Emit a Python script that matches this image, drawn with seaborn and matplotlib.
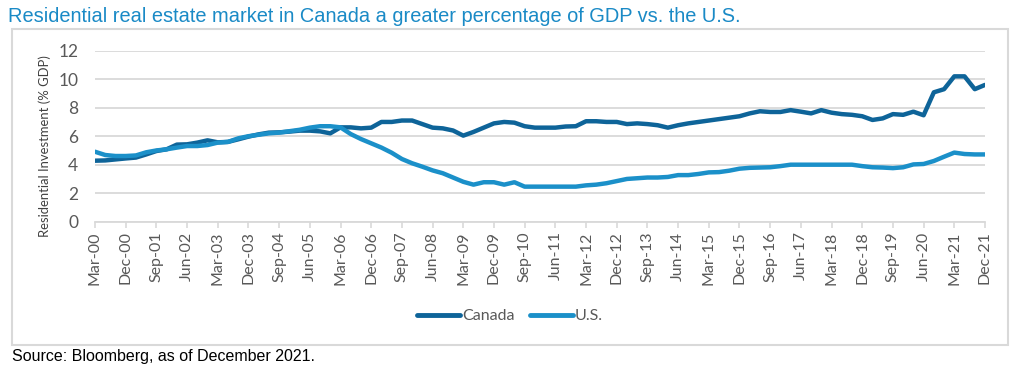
"""
Residential investment as % of GDP, Canada vs U.S. (quarterly, Mar-00 to Dec-21)
"""

import pandas as pd
import matplotlib
matplotlib.use("Agg")
import matplotlib.pyplot as plt
import matplotlib.patches as mpatches
from matplotlib.lines import Line2D
import seaborn as sns

# quarterly values (% of GDP)
canada = [
    4.28, 4.30, 4.37, 4.44, 4.50, 4.72, 4.96, 5.08, 5.41, 5.43,
    5.55, 5.71, 5.57, 5.60, 5.78, 5.97, 6.13, 6.25, 6.27, 6.32,
    6.39, 6.39, 6.34, 6.20, 6.62, 6.62, 6.55, 6.60, 7.00, 7.00,
    7.10, 7.10, 6.85, 6.60, 6.55, 6.40, 6.04, 6.30, 6.60, 6.90,
    7.00, 6.95, 6.70, 6.60, 6.60, 6.60, 6.68, 6.70, 7.05, 7.05,
    7.00, 7.00, 6.85, 6.90, 6.85, 6.77, 6.60, 6.77, 6.90, 7.00,
    7.10, 7.20, 7.30, 7.40, 7.60, 7.75, 7.70, 7.70, 7.83, 7.72,
    7.60, 7.83, 7.65, 7.55, 7.50, 7.40, 7.14, 7.25, 7.55, 7.50,
    7.72, 7.47, 9.08, 9.30, 10.20, 10.20, 9.30, 9.60,
]
us = [
    4.91, 4.68, 4.61, 4.61, 4.65, 4.87, 5.00, 5.08, 5.20, 5.31,
    5.31, 5.38, 5.55, 5.60, 5.85, 6.00, 6.10, 6.20, 6.25, 6.35,
    6.45, 6.60, 6.70, 6.70, 6.62, 6.15, 5.80, 5.50, 5.20, 4.84,
    4.40, 4.10, 3.86, 3.60, 3.40, 3.10, 2.80, 2.60, 2.77, 2.77,
    2.60, 2.77, 2.46, 2.46, 2.46, 2.46, 2.46, 2.46, 2.55, 2.60,
    2.70, 2.85, 3.00, 3.05, 3.10, 3.10, 3.14, 3.27, 3.27, 3.35,
    3.46, 3.48, 3.58, 3.72, 3.78, 3.80, 3.82, 3.90, 4.00, 4.00,
    4.00, 4.00, 4.00, 4.00, 4.00, 3.90, 3.82, 3.80, 3.76, 3.82,
    4.02, 4.05, 4.26, 4.56, 4.85, 4.75, 4.72, 4.72,
]
quarters = pd.date_range("2000-03-01", periods=len(canada), freq="3MS")
quarter_labels = [d.strftime("%b-%y") for d in quarters]
series_names = ["Canada", "U.S."]
colors = {"Canada": "#0e6499", "U.S.": "#1b90c9"}

df = pd.DataFrame({
    "idx": list(range(len(canada))) * 2,
    "value": canada + us,
    "series": ["Canada"] * len(canada) + ["U.S."] * len(us),
})

sns.set_style("white")
plt.rcParams["font.family"] = ["Lato", "DejaVu Sans"]

fig = plt.figure(figsize=(10.23, 3.78), dpi=100)
ax = fig.add_axes([95 / 1023, 1 - 221.7 / 378, 890 / 1023, 171 / 378])

sns.lineplot(data=df, x="idx", y="value", hue="series", hue_order=series_names,
             palette=colors, linewidth=3.2, legend=False, ax=ax)

ax.set_xlim(0, len(canada) - 1)
ax.set_ylim(0, 12)
ax.set_yticks(range(0, 13, 2))
ax.set_xticks(range(0, len(canada), 3))
ax.set_xticklabels(quarter_labels[::3], rotation=90)
ax.yaxis.grid(True, color="#d9d9d9", linewidth=1.3)
ax.set_axisbelow(True)
for s in ["top", "right", "left"]:
    ax.spines[s].set_visible(False)
ax.spines["bottom"].set_color("#d9d9d9")
ax.spines["bottom"].set_linewidth(1.3)
ax.tick_params(axis="y", length=0, pad=12, labelsize=12.5, labelcolor="#595959")
ax.tick_params(axis="x", length=4, width=1.2, color="#d9d9d9", pad=3,
               labelsize=11.5, labelcolor="#595959", bottom=True)
ax.set_xlabel("")
ax.set_ylabel("Residential Investment (% GDP)", fontsize=9.4, color="#404040")
ax.yaxis.set_label_coords((51 - 95) / 890, (221.7 - 146) / 171)

handles = [Line2D([0], [0], color=colors[n], lw=3.5, solid_capstyle="round") for n in series_names]
fig.legend(handles, series_names, loc="center", bbox_to_anchor=(510 / 1023, 1 - 316 / 378),
           ncol=2, frameon=False, fontsize=11.5, handlelength=2.7, handletextpad=0.1,
           columnspacing=1.0, labelcolor="#595959")

# outer frame
fig.patches.append(mpatches.Rectangle((12 / 1023, 1 - 345 / 378), 996 / 1023, 316 / 378,
                                      transform=fig.transFigure, fill=False,
                                      edgecolor="#d9d9d9", linewidth=1.5))

fig.text(8 / 1023, 1 - 16 / 378, "Residential real estate market in Canada a greater percentage of GDP vs. the U.S.",
         fontsize=14.4, color="#1a8ac6", family="Liberation Sans", va="center", ha="left")
fig.text(12 / 1023, 1 - 356 / 378, "Source: Bloomberg, as of December 2021.",
         fontsize=11.5, color="#000000", family="Liberation Sans", va="center", ha="left")

fig.savefig("out.png", dpi=100)
plt.close(fig)
